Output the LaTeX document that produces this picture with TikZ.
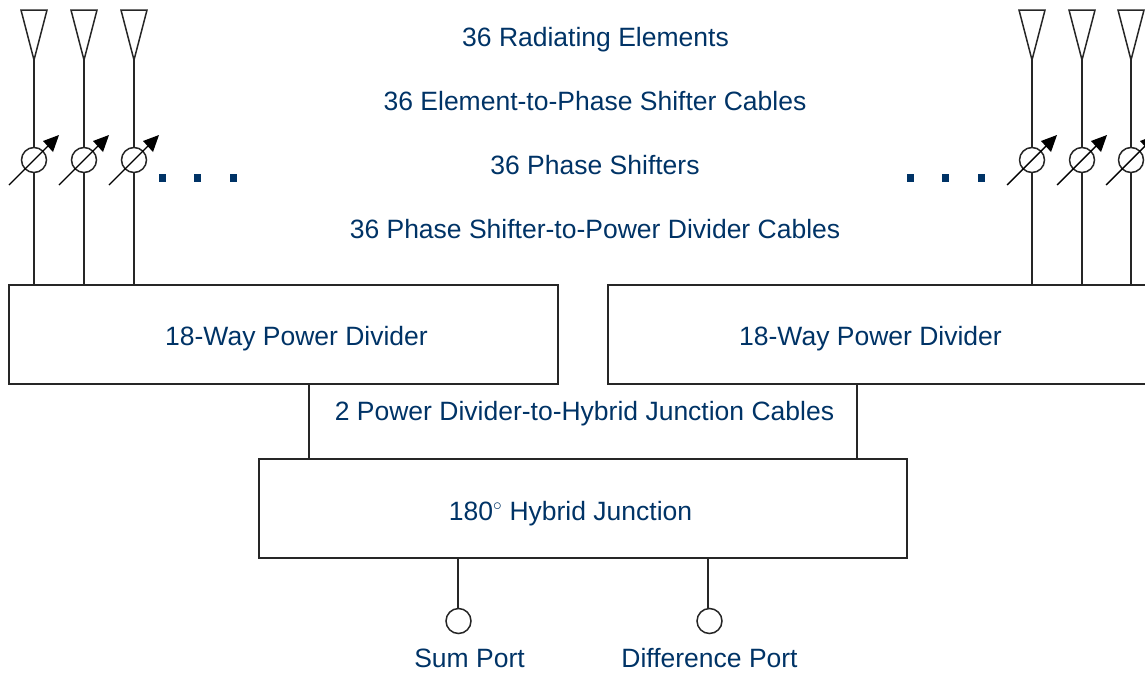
\documentclass[tikz,border=0pt]{standalone}
\usepackage{fontspec}
\setmainfont{Liberation Sans}
\definecolor{navy}{RGB}{0,51,102}
\tikzset{
  line/.style={draw=black!85,line width=1.5pt},
  lbl/.style={text=navy,font=\fontsize{26.5}{30}\selectfont,anchor=base,inner sep=0pt},
  blockbox/.style={line,draw,fill=none,inner sep=0pt,outer sep=0pt,anchor=north west},
  ring/.style={line,draw,circle,minimum size=25pt,inner sep=0pt,outer sep=0pt,fill=white},
  dotsq/.style={fill=navy,minimum size=7.5pt,inner sep=0pt},
  tune/.style={draw=black,line width=1.4pt},
  tunehead/.style={fill=black,draw=none}
}
\begin{document}
\begin{tikzpicture}[x=1pt,y=-1pt]
\useasboundingbox (0,0) rectangle (1145,672);
\clip (0,0) rectangle (1145,672);
% boxes
\node[blockbox,minimum width=549pt,minimum height=99pt] (pdl) at (9,285) {};
\node[blockbox,minimum width=549pt,minimum height=99pt] (pdr) at (608,285) {};
\node[blockbox,minimum width=648pt,minimum height=99pt] (hyb) at (259,459) {};
% element chains
\foreach \n/\x in {a/34,b/84,c/134,d/1032,e/1082,f/1131}{
  \coordinate (apex\n) at (\x,60);
  \coordinate (tl\n) at ([xshift=-13pt]\x,10);
  \coordinate (tr\n) at ([xshift=13pt]\x,10);
  \draw[line,line join=miter] (tl\n) -- (tr\n) -- (apex\n) -- cycle;
  \coordinate (foot\n) at (\x,285);
  \draw[line] (apex\n) -- (foot\n);
  \node[ring] (ps\n) at (\x,160) {};
  \coordinate (as\n) at ([xshift=-25pt]\x,185);
  \coordinate (ae\n) at ([xshift=25pt]\x,135);
  \coordinate (am\n) at ([xshift=14pt]\x,146);
  \draw[tune] (as\n) -- (am\n);
  \fill[tunehead] (ae\n) -- ++(-16,6) -- ++(10,11) -- cycle;
}
% cables between boxes
\coordinate (c1t) at (309,384);
\coordinate (c1b) at (309,459);
\coordinate (c2t) at (857,384);
\coordinate (c2b) at (857,459);
\draw[line] (c1t) -- (c1b);
\draw[line] (c2t) -- (c2b);
% ports
\node[ring] (sum) at (458.5,621) {};
\node[ring] (diff) at (709.5,621) {};
\coordinate (st) at (458,558);
\coordinate (dt) at (708,558);
\draw[line] (st) -- (st |- sum.north);
\draw[line] (dt) -- (dt |- diff.north);
% dots
\foreach \n/\x in {1/162.5,2/197.5,3/233.5,4/910.5,5/945.5,6/981.5}
  \node[dotsq] (dot\n) at (\x,178) {};
% labels
\node[lbl] (t1) at (595.5,46) {36 Radiating Elements};
\node[lbl] (t2) at (595,110) {36 Element-to-Phase Shifter Cables};
\node[lbl] (t3) at (595,174) {36 Phase Shifters};
\node[lbl] (t4) at (595,238) {36 Phase Shifter-to-Power Divider Cables};
\node[lbl] (t5) at (296.5,345) {18-Way Power Divider};
\node[lbl] (t6) at (870.5,345) {18-Way Power Divider};
\node[lbl] (t7) at (584.5,420) {2 Power Divider-to-Hybrid Junction Cables};
\node[lbl] (t8) at (570.5,520) {180$^\circ$ Hybrid Junction};
\node[lbl] (t9) at (469.5,667) {Sum Port};
\node[lbl] (t10) at (709.5,667) {Difference Port};
\end{tikzpicture}
\end{document}
